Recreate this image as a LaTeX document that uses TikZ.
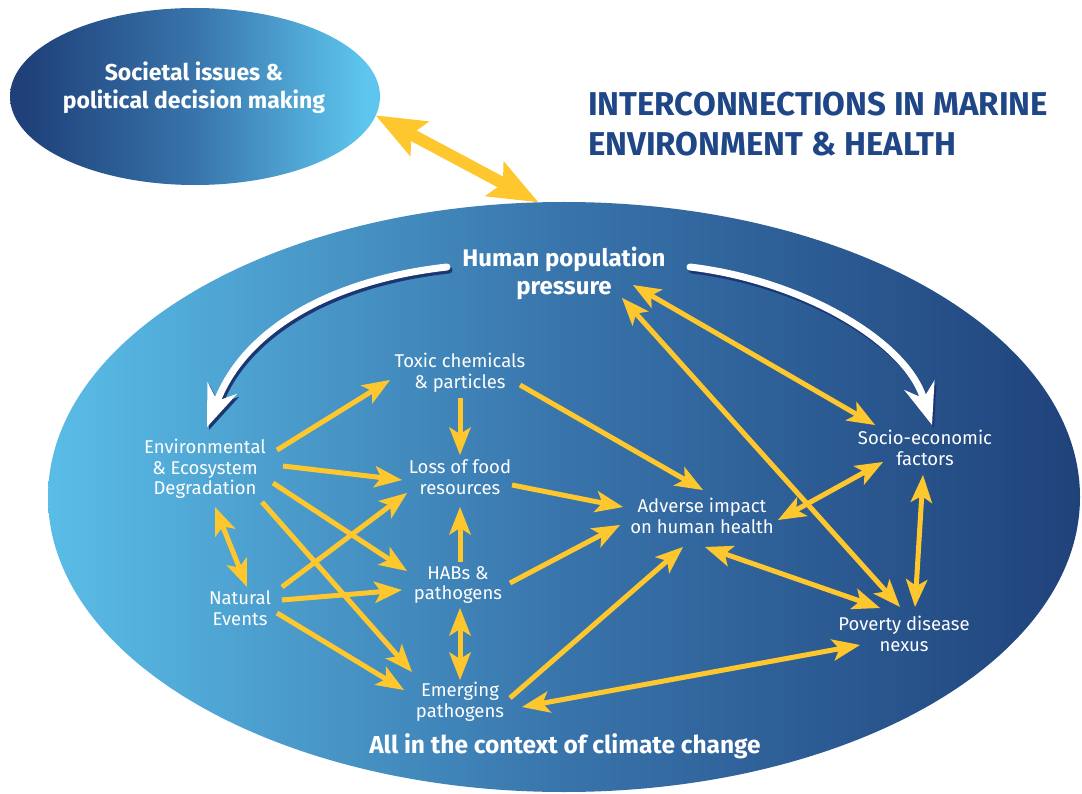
\documentclass[tikz,border=0pt]{standalone}
\usepackage{fontspec}
\setmainfont{Fira Sans}
\usetikzlibrary{arrows.meta,shapes.geometric}
\definecolor{lb}{HTML}{5EC6EE}
\definecolor{mb}{HTML}{3874AB}
\definecolor{db}{HTML}{1F4079}
\definecolor{yel}{HTML}{FFC72E}
\definecolor{ttl}{HTML}{1F4787}
\definecolor{shd}{HTML}{1A3673}
\pgfdeclarehorizontalshading{bigsh}{100bp}{color(0bp)=(lb); color(22bp)=(lb); color(50bp)=(mb); color(76bp)=(db); color(100bp)=(db)}
\pgfdeclarehorizontalshading{smallsh}{100bp}{color(0bp)=(db); color(27bp)=(db); color(50bp)=(mb); color(73bp)=(lb); color(100bp)=(lb)}
\tikzset{
  lbl/.style={text=white, align=center, inner sep=0pt, font=\fontsize{18.5}{20.5}\selectfont},
  blbl/.style={text=white, align=center, inner sep=0pt, font=\fontsize{24}{28}\selectfont\bfseries},
  ya/.style={draw=yel, line width=5pt, -{Stealth[length=28pt,width=22pt,inset=7pt,line width=0pt]}},
  yab/.style={draw=yel, line width=5pt, {Stealth[length=28pt,width=22pt,inset=7pt,line width=0pt]}-{Stealth[length=28pt,width=22pt,inset=7pt,line width=0pt]}},
  thick arrow/.style={draw=yel, line width=12pt, {Stealth[length=50pt,width=40pt,inset=10pt,line width=0pt]}-{Stealth[length=50pt,width=40pt,inset=10pt,line width=0pt]}},
  warrow/.style={draw=white, line width=7pt, line cap=round, -{Stealth[length=42pt,width=32pt,inset=14pt,line width=0pt]}},
  wshadow/.style={draw=shd, line width=7pt, line cap=round, -{Stealth[length=42pt,width=32pt,inset=14pt,line width=0pt]}, transform canvas={xshift=2pt,yshift=-3pt}},
}
\begin{document}
\begin{tikzpicture}[x=1pt,y=-1pt]
\useasboundingbox (0,0) rectangle (1082,794);
\fill[white] (0,0) rectangle (1082,794);
% ellipses
\node[ellipse, inner sep=0pt, minimum width=1032pt, minimum height=590pt, shade, shading=bigsh] (bigE) at (564,497) {};
\node[ellipse, inner sep=0pt, minimum width=370pt, minimum height=177pt, shade, shading=smallsh] (socE) at (195,96.5) {};
% texts
\node[blbl, font=\fontsize{23}{28}\selectfont\bfseries] (soc) at (194,88) {Societal issues \&\\political decision making};
\node[text=ttl, align=left, inner sep=0pt, anchor=west, font=\fontsize{33}{40}\selectfont\bfseries] (title) at (588,124) {INTERCONNECTIONS IN MARINE\\ENVIRONMENT \& HEALTH};
\node[blbl] (hum) at (564,273) {Human population\\pressure};
\node[lbl] (tox) at (460,373) {Toxic chemicals\\\& particles};
\node[lbl] (env) at (205,469) {Environmental\\\& Ecosystem\\Degradation};
\node[lbl] (loss) at (460,477) {Loss of food\\resources};
\node[lbl] (habs) at (458,585) {HABs \&\\pathogens};
\node[lbl] (nat) at (240,608) {Natural\\Events};
\node[lbl] (emg) at (460,702) {Emerging\\pathogens};
\node[lbl] (adv) at (702,516) {Adverse impact\\on human health};
\node[lbl] (socio) at (925,448) {Socio-economic\\factors};
\node[lbl] (pov) at (904,634) {Poverty disease\\nexus};
\node[blbl, font=\fontsize{24.5}{28}\selectfont\bfseries] (ctx) at (565,746) {All in the context of climate change};
% thick double arrow between ellipses
\draw[thick arrow] (socE.-6) -- (bigE.95);
% white curved arrows
\draw[wshadow] ([shift={(-117,-6)}]hum.center) .. controls +(-117,13) and +(38,-97) .. ([shift={(2,-42)}]env.center);
\draw[warrow] ([shift={(-117,-6)}]hum.center) .. controls +(-117,13) and +(38,-97) .. ([shift={(2,-42)}]env.center);
\draw[wshadow] ([shift={(126,-6)}]hum.center) .. controls +(110,13) and +(-27,-85) .. ([shift={(7,-23)}]socio.center);
\draw[warrow] ([shift={(126,-6)}]hum.center) .. controls +(110,13) and +(-27,-85) .. ([shift={(7,-23)}]socio.center);
% yellow arrows
\draw[ya] ([shift={(72,-19)}]env.center) -- ([shift={(-70,7)}]tox.center);
\draw[ya] ([shift={(0,25)}]tox.center) -- ([shift={(0,-22)}]loss.center);
\draw[ya] ([shift={(78,-3)}]env.center) -- ([shift={(-58,3)}]loss.center);
\draw[ya] ([shift={(60,12)}]tox.center) -- ([shift={(1,-26)}]adv.center);
\draw[ya] ([shift={(52,8)}]loss.center) -- ([shift={(-79,-9)}]adv.center);
\draw[ya] ([shift={(52,-2)}]habs.center) -- ([shift={(-82,9)}]adv.center);
\draw[ya] ([shift={(50,-4)}]emg.center) -- ([shift={(-19,31)}]adv.center);
\draw[yab] ([shift={(62,5)}]emg.center) -- ([shift={(-44,11)}]pov.center);
\draw[yab] ([shift={(76,4)}]adv.center) -- ([shift={(-42,14)}]socio.center);
\draw[yab] ([shift={(3,31)}]adv.center) -- ([shift={(-24,-26)}]pov.center);
\draw[yab] ([shift={(-2,27)}]socio.center) -- ([shift={(11,-27)}]pov.center);
\draw[yab] ([shift={(69,12)}]hum.center) -- ([shift={(-50,-23)}]socio.center);
\draw[yab] ([shift={(58,25)}]hum.center) -- ([shift={(-4,-27)}]pov.center);
\draw[yab] ([shift={(10,38)}]env.center) -- ([shift={(7,-21)}]nat.center);
\draw[ya] ([shift={(68,14)}]env.center) -- ([shift={(-51,-14)}]habs.center);
\draw[ya] ([shift={(57,33)}]env.center) -- ([shift={(-48,-30)}]emg.center);
\draw[ya] ([shift={(42,-21)}]nat.center) -- ([shift={(-53,16)}]loss.center);
\draw[ya] ([shift={(42,-8)}]nat.center) -- ([shift={(-56,5)}]habs.center);
\draw[ya] ([shift={(37,5)}]nat.center) -- ([shift={(-56,-12)}]emg.center);
\draw[ya] ([shift={(2,-23)}]habs.center) -- ([shift={(0,30)}]loss.center);
\draw[yab] ([shift={(2,23)}]habs.center) -- ([shift={(0,-22)}]emg.center);
\end{tikzpicture}
\end{document}
